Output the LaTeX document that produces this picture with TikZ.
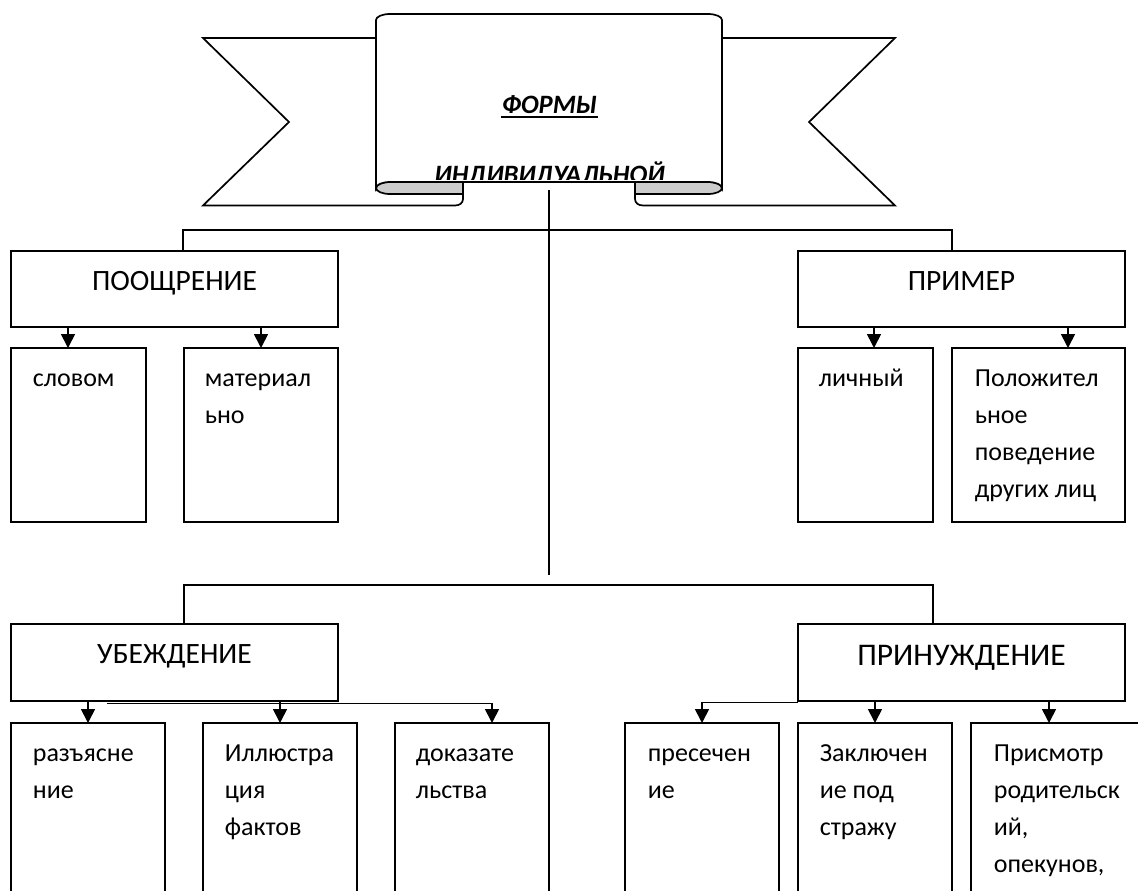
\documentclass[tikz,border=0pt]{standalone}
\usepackage{fontspec}
\setmainfont{Carlito}
\usetikzlibrary{arrows.meta,calc}
\newcommand\linestack[1]{\vtop{\baselineskip=37pt\lineskiplimit=-30pt\lineskip=0pt #1}}
\begin{document}
\begin{tikzpicture}[x=1pt,y=-1pt,line width=1.7pt,line join=miter,
  box/.style={draw,fill=white,inner sep=0pt,outer sep=0pt,anchor=north west},
  headtxt/.style={font=\fontsize{29.5}{34}\selectfont,inner sep=0pt,anchor=base},
  bighead/.style={font=\fontsize{31.5}{36}\selectfont,inner sep=0pt,anchor=base},
  celltxt/.style={font=\fontsize{26}{37}\selectfont,inner sep=0pt,anchor=base west},
  titletxt/.style={font=\fontsize{26.5}{30}\selectfont\bfseries\itshape,inner sep=0pt,anchor=base},
  arr/.style={-{Triangle[length=14pt,width=14pt]}},
  fold/.style={draw,fill=gray!40}]
\useasboundingbox (0,0) rectangle (1138,891);
\clip (0,0) rectangle (1138,891);
\fill[white] (0,0) rectangle (1138,891);

% ---- banner ----
% tails
\draw[fill=white] (376,38) -- (203,38) -- (289,122) -- (203,205.5) -- (455,205.5)
  .. controls (459.4,205.5) and (463,203) .. (463,199) -- (463,182);
\draw[fill=white] (722,38) -- (895,38) -- (809,122) -- (895,205.5) -- (643,205.5)
  .. controls (638.6,205.5) and (635,203) .. (635,199) -- (635,182);
% folds
\draw[fold] (376,188) .. controls (376,191.3) and (382.3,194) .. (390,194) -- (463,194) -- (463,182)
  -- (390,182) .. controls (382.3,182) and (376,184.7) .. (376,188) -- cycle;
\draw[fold] (722,188) .. controls (722,191.3) and (715.7,194) .. (708,194) -- (635,194) -- (635,182)
  -- (708,182) .. controls (715.7,182) and (722,184.7) .. (722,188) -- cycle;
% panel
\draw[fill=white] (376,188) -- (376,20) .. controls (376,16.7) and (382.3,14) .. (390,14)
  -- (708,14) .. controls (715.7,14) and (722,16.7) .. (722,20) -- (722,188)
  .. controls (722,184.7) and (715.7,182) .. (708,182) -- (390,182)
  .. controls (382.3,182) and (376,184.7) .. (376,188) -- cycle;
\node[titletxt] (title1) at (549.5,113) {ФОРМЫ};
\draw[line width=1.8pt] ([yshift=-4pt]title1.base west) -- ([yshift=-4pt]title1.base east);
\begin{scope}
  \clip (377,15) rectangle (721,179.5);
  \node[titletxt] (title2) at (549.5,183.5) {ИНДИВИДУАЛЬНОЙ};
\end{scope}

% ---- boxes ----
\node[box,minimum width=327pt,minimum height=76pt] (poo) at (11,251) {};
\node[box,minimum width=327pt,minimum height=76pt] (prm) at (798,251) {};
\node[box,minimum width=135pt,minimum height=174pt] (slo) at (11,348) {};
\node[box,minimum width=154pt,minimum height=174pt] (mat) at (184,348) {};
\node[box,minimum width=135pt,minimum height=174pt] (lic) at (798,348) {};
\node[box,minimum width=173pt,minimum height=174pt] (pol) at (952,348) {};
\node[box,minimum width=327pt,minimum height=77pt] (ube) at (11,624) {};
\node[box,minimum width=327pt,minimum height=77pt] (prn) at (798,624) {};
\node[box,minimum width=154pt,minimum height=200pt] (raz) at (11,723) {};
\node[box,minimum width=154pt,minimum height=200pt] (ill) at (203,723) {};
\node[box,minimum width=154pt,minimum height=200pt] (dok) at (395,723) {};
\node[box,minimum width=154pt,minimum height=200pt] (pre) at (625,723) {};
\node[box,minimum width=154pt,minimum height=200pt] (zak) at (798,723) {};
\node[box,minimum width=200pt,minimum height=200pt] (prs) at (971,723) {};

% headings
\node[headtxt] at ($(poo.north)+(0,39)$) {ПООЩРЕНИЕ};
\node[headtxt] at ($(prm.north)+(0,39)$) {ПРИМЕР};
\node[headtxt] at ($(ube.north)+(0,39.5)$) {УБЕЖДЕНИЕ};
\node[bighead] at ($(prn.north)+(0,41)$) {ПРИНУЖДЕНИЕ};

% cell texts
\node[celltxt] at ($(slo.north west)+(21,38)$) {\linestack{\hbox{словом}}};
\node[celltxt] at ($(mat.north west)+(20,38)$) {\linestack{\hbox{материал}\hbox{ьно}}};
\node[celltxt] at ($(lic.north west)+(20,38)$) {\linestack{\hbox{личный}}};
\node[celltxt] at ($(pol.north west)+(22,38)$) {\linestack{\hbox{Положител}\hbox{ьное}\hbox{поведение}\hbox{других лиц}}};
\node[celltxt] at ($(raz.north west)+(21,38)$) {\linestack{\hbox{разъясне}\hbox{ние}}};
\node[celltxt] at ($(ill.north west)+(21,38)$) {\linestack{\hbox{Иллюстра}\hbox{ция}\hbox{фактов}}};
\node[celltxt] at ($(dok.north west)+(20,38)$) {\linestack{\hbox{доказате}\hbox{льства}}};
\node[celltxt] at ($(pre.north west)+(22,38)$) {\linestack{\hbox{пресечен}\hbox{ие}}};
\node[celltxt] at ($(zak.north west)+(21,38)$) {\linestack{\hbox{Заключен}\hbox{ие под}\hbox{стражу}}};
\node[celltxt] at ($(prs.north west)+(22,38)$) {\linestack{\hbox{Присмотр}\hbox{родительск}\hbox{ий,}\hbox{опекунов,}}};

% ---- connectors ----
\coordinate (c1) at (549,190);
\coordinate (c2) at (549,575);
\draw (c1) -- (c2);
\coordinate (h1) at (183,230);
\coordinate (h2) at (952,230);
\draw (poo.north -| h1) -- (h1) -- (h2) -- (prm.north -| h2);
\coordinate (h3) at (184,585);
\coordinate (h4) at (933,585);
\draw (ube.north -| h3) -- (h3) -- (h4) -- (prn.north -| h4);

\coordinate (xa) at (68,0);
\coordinate (xb) at (261,0);
\coordinate (xc) at (874,0);
\coordinate (xd) at (1068,0);
\draw[arr] (poo.south -| xa) -- (slo.north -| xa);
\draw[arr] (poo.south -| xb) -- (mat.north -| xb);
\draw[arr] (prm.south -| xc) -- (lic.north -| xc);
\draw[arr] (prm.south -| xd) -- (pol.north -| xd);

\draw[arr] (ube.south -| raz.north) -- (raz.north);
\draw[arr] (ube.south -| ill.north) -- (ill.north);
\coordinate (l1) at (107,703.5);
\coordinate (l2) at (492,703.5);
\draw[arr] (l1) -- (l2) -- (dok.north -| l2);
\coordinate (l0) at (798,702.5);
\draw[arr] (l0) -| (pre.north);
\draw[arr] (prn.south -| zak.north) -- (zak.north);
\coordinate (xe) at (1049,0);
\draw[arr] (prn.south -| xe) -- (prs.north -| xe);
\end{tikzpicture}
\end{document}
